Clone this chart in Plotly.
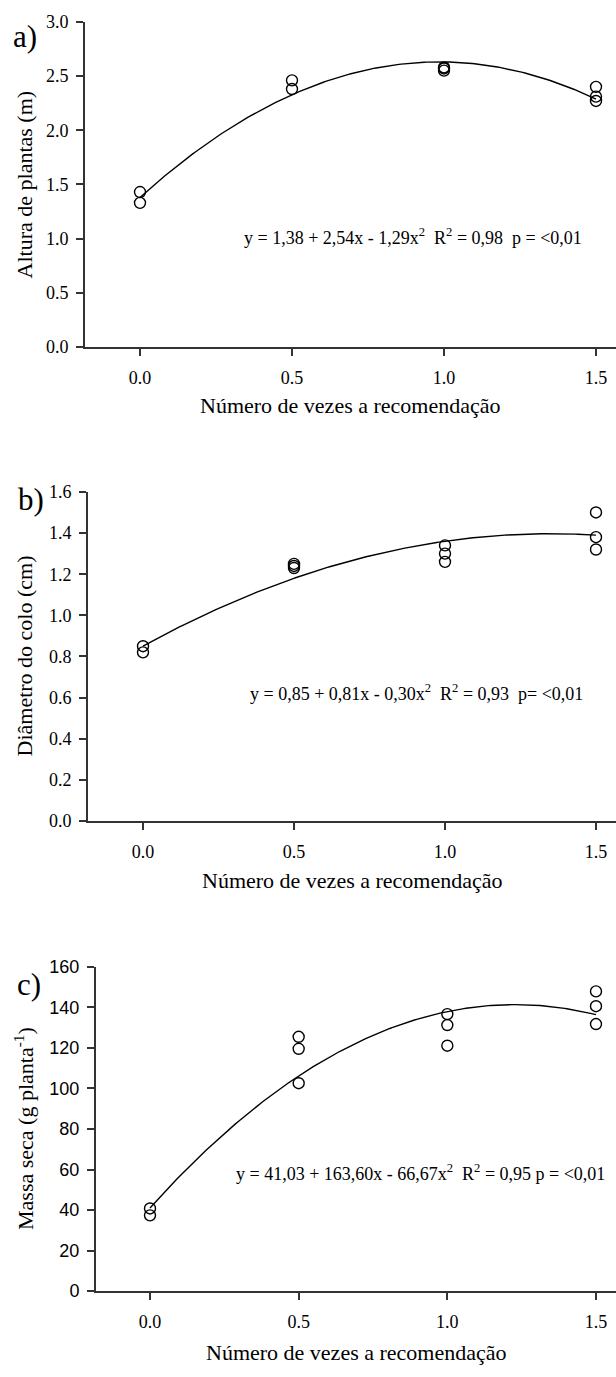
import plotly.graph_objects as go
import numpy as np

W, H = 616, 1377

# ---------------- data ----------------
x_a = [0, 0, 0.5, 0.5, 1.0, 1.0, 1.0, 1.5, 1.5, 1.5]
y_a = [1.43, 1.33, 2.46, 2.38, 2.58, 2.57, 2.55, 2.40, 2.31, 2.27]
coef_a = [1.38, 2.54, -1.29]

x_b = [0, 0, 0.5, 0.5, 0.5, 1.0, 1.0, 1.0, 1.5, 1.5, 1.5]
y_b = [0.85, 0.82, 1.25, 1.24, 1.23, 1.34, 1.30, 1.26, 1.50, 1.38, 1.32]
coef_b = [0.85, 0.81, -0.30]

x_c = [0, 0, 0.5, 0.5, 0.5, 1.0, 1.0, 1.0, 1.5, 1.5, 1.5]
y_c = [40.8, 37.4, 125.5, 119.6, 102.6, 136.7, 131.3, 121.1, 147.9, 140.6, 131.8]
coef_c = [41.03, 163.60, -66.67]

x_ticks = [0.0, 0.5, 1.0, 1.5]
x_ticklabels = ["0.0", "0.5", "1.0", "1.5"]
y_ticks_a = [0.0, 0.5, 1.0, 1.5, 2.0, 2.5, 3.0]
y_ticks_b = [0.0, 0.2, 0.4, 0.6, 0.8, 1.0, 1.2, 1.4, 1.6]
y_ticks_c = [0, 20, 40, 60, 80, 100, 120, 140, 160]

eq_a = "y = 1,38 + 2,54x - 1,29x<sup>2</sup>  R<sup>2</sup> = 0,98  p = <0,01"
eq_b = "y = 0,85 + 0,81x - 0,30x<sup>2</sup>  R<sup>2</sup> = 0,93  p= <0,01"
eq_c = "y = 41,03 + 163,60x - 66,67x<sup>2</sup>  R<sup>2</sup> = 0,95 p = <0,01"
ytitle_a = "Altura de plantas (m)"
ytitle_b = "Diâmetro do colo (cm)"
ytitle_c = "Massa seca (g planta<sup>-1</sup>)"
xtitle = "Número de vezes a recomendação"

# ---------------- layout helpers ----------------
def px_x(p):
    return p / W

def px_y(p):
    return 1 - p / H

SERIF = "Liberation Serif, Times New Roman, serif"
SANS = "Liberation Sans, Arial, sans-serif"
AX = "#333333"

panels = [
    dict(xs=x_a, ys=y_a, coef=coef_a, left=85, t0=140, t15=596, top=12, bot=342,
         yr=[0, 3], yt=y_ticks_a, yfmt=".1f", yfont=SERIF, eq=eq_a, eqx=242, eqy=230,
         yt_title=ytitle_a, lab="a)", labx=11, laby=27, xtitle_y=401),
    dict(xs=x_b, ys=y_b, coef=coef_b, left=88, t0=143, t15=596, top=489, bot=823,
         yr=[0, 1.6], yt=y_ticks_b, yfmt=".1f", yfont=SERIF, eq=eq_b, eqx=248, eqy=693,
         yt_title=ytitle_b, lab="b)", labx=16, laby=497, xtitle_y=883),
    dict(xs=x_c, ys=y_c, coef=coef_c, left=96, t0=150, t15=596, top=971, bot=1300,
         yr=[0, 160], yt=y_ticks_c, yfmt="d", yfont=SANS, eq=eq_c, eqx=234, eqy=1180,
         yt_title=ytitle_c, lab="c)", labx=15, laby=989, xtitle_y=1362),
]

fig = go.Figure()
annotations = []
layout = {}

for i, p in enumerate(panels, start=1):
    xa = "x" if i == 1 else f"x{i}"
    ya = "y" if i == 1 else f"y{i}"
    ppu = (p["t15"] - p["t0"]) / 1.5
    xmin = -(p["t0"] - p["left"]) / ppu
    xmax = (W - p["t0"]) / ppu

    xx = np.linspace(0, 1.5, 200)
    a0, a1, a2 = p["coef"]
    yy = a0 + a1 * xx + a2 * xx ** 2
    fig.add_trace(go.Scatter(x=xx, y=yy, mode="lines", line=dict(color="black", width=1.4),
                             xaxis=xa, yaxis=ya, showlegend=False, hoverinfo="skip"))
    fig.add_trace(go.Scatter(x=p["xs"], y=p["ys"], mode="markers",
                             marker=dict(symbol="circle-open", size=11, color="black",
                                         line=dict(width=1.4, color="black")),
                             xaxis=xa, yaxis=ya, showlegend=False))

    xkey = "xaxis" if i == 1 else f"xaxis{i}"
    ykey = "yaxis" if i == 1 else f"yaxis{i}"
    layout[xkey] = dict(
        domain=[px_x(p["left"]), 1.0], range=[xmin, xmax], anchor=ya,
        tickvals=x_ticks, ticktext=x_ticklabels, ticks="outside", ticklen=7,
        tickwidth=1.5, tickcolor=AX, showline=True, linecolor=AX, linewidth=2,
        showgrid=False, zeroline=False, ticklabelstandoff=6,
        tickfont=dict(family=SERIF, size=18, color="black"),
    )
    layout[ykey] = dict(
        domain=[px_y(p["bot"]), px_y(p["top"])], range=p["yr"], anchor=xa,
        tickvals=p["yt"], tickformat=p["yfmt"], ticks="outside", ticklen=7,
        tickwidth=1.5, tickcolor=AX, showline=True, linecolor=AX, linewidth=2,
        showgrid=False, zeroline=False, ticklabelstandoff=4,
        tickfont=dict(family=p["yfont"], size=18, color="black"),
    )

    annotations.append(dict(text=p["eq"], x=px_x(p["eqx"]), y=px_y(p["eqy"]),
                            xref="paper", yref="paper", xanchor="left", yanchor="middle",
                            showarrow=False, font=dict(family=SERIF, size=18, color="black")))
    annotations.append(dict(text=p["yt_title"], x=px_x(24), y=px_y((p["top"] + p["bot"]) / 2),
                            xref="paper", yref="paper", xanchor="center", yanchor="middle",
                            textangle=-90, showarrow=False,
                            font=dict(family=SERIF, size=22, color="black")))
    annotations.append(dict(text=p["lab"], x=px_x(p["labx"]), y=px_y(p["laby"]),
                            xref="paper", yref="paper", xanchor="left", yanchor="middle",
                            showarrow=False, font=dict(family=SERIF, size=31, color="black")))
    annotations.append(dict(text=xtitle, x=px_x((p["left"] + W) / 2), y=px_y(p["xtitle_y"]),
                            xref="paper", yref="paper", xanchor="center", yanchor="middle",
                            showarrow=False, font=dict(family=SERIF, size=22, color="black")))

fig.update_layout(
    width=W, height=H, margin=dict(l=0, r=0, t=0, b=0),
    paper_bgcolor="white", plot_bgcolor="white",
    annotations=annotations, showlegend=False, **layout,
)

fig.write_html("out.html")
